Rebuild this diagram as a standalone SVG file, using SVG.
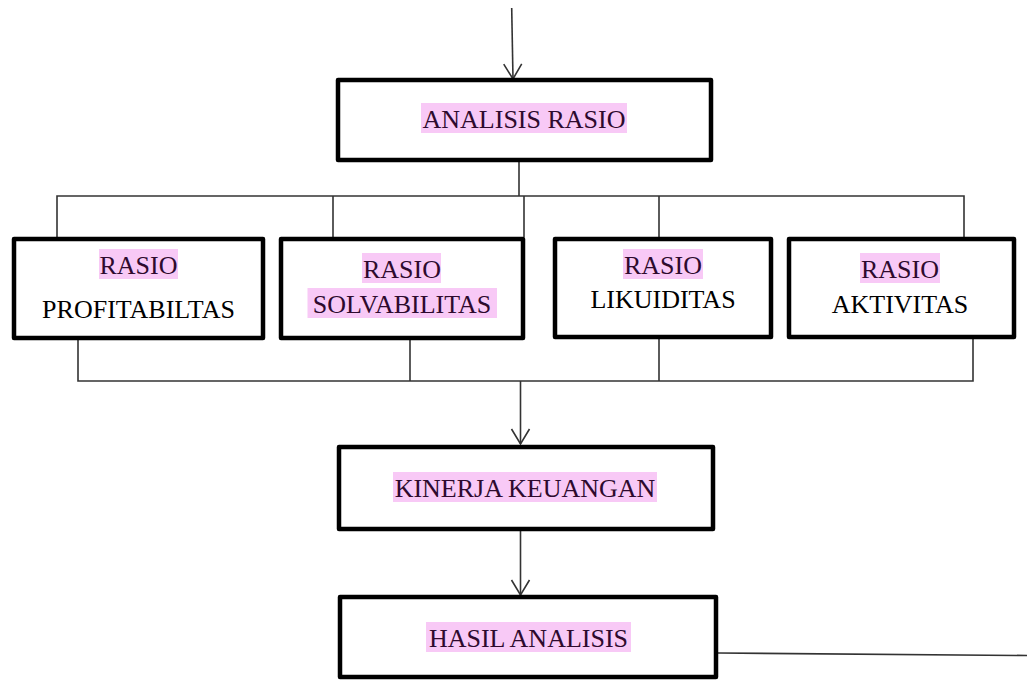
<svg xmlns="http://www.w3.org/2000/svg" width="1027" height="681" viewBox="0 0 1027 681" font-family="'Liberation Serif', serif">
  <style>
    .box { fill: #ffffff; stroke: #000000; stroke-width: 4.5; stroke-linejoin: round; }
    .hl { fill: #f8c9f6; }
    text { font-family: 'Liberation Serif', 'Times New Roman', serif; font-size: 26px; text-anchor: middle; }
    .tp { fill: #2e0a2e; }
    .tb { fill: #000000; }
    .c { fill: none; stroke: #333333; stroke-width: 1.6; }
  </style>
  <defs>
    <marker id="arr" viewBox="-17 -11 19 22" refX="0" refY="0" markerWidth="19" markerHeight="22" markerUnits="userSpaceOnUse" orient="auto">
      <path d="M-15,-9 L0,0 L-15,9" fill="none" stroke="#333333" stroke-width="1.6"/>
    </marker>
  </defs>
  <rect width="1027" height="681" fill="#ffffff"/>

  <g id="connectors">
    <line class="c" x1="511.7" y1="8" x2="513" y2="79" marker-end="url(#arr)"/>
    <path class="c" d="M519,162 V196"/>
    <path class="c" d="M57,237 V196 H964 V237"/>
    <path class="c" d="M333,196 V237"/>
    <path class="c" d="M524,196 V237"/>
    <path class="c" d="M659,196 V237"/>
    <path class="c" d="M78,340 V381 H973 V339"/>
    <path class="c" d="M410,340 V381"/>
    <path class="c" d="M659,339 V381"/>
    <line class="c" x1="520.5" y1="381" x2="520.5" y2="444" marker-end="url(#arr)"/>
    <line class="c" x1="520.5" y1="531" x2="520.5" y2="595" marker-end="url(#arr)"/>
    <line class="c" x1="718" y1="653" x2="1027" y2="655.5"/>
  </g>

  <g id="analisis-rasio">
    <rect class="box" x="338" y="80" width="373" height="80"/>
    <rect class="hl" x="421" y="103" width="206" height="30"/>
    <text class="tp" x="524" y="128">ANALISIS RASIO</text>
  </g>

  <g id="rasio-profitabilitas">
    <rect class="box" x="14" y="239" width="249" height="99"/>
    <rect class="hl" x="99" y="249" width="79" height="30"/>
    <text class="tp" x="138.5" y="274">RASIO</text>
    <text class="tb" x="138.5" y="318">PROFITABILTAS</text>
  </g>

  <g id="rasio-solvabilitas">
    <rect class="box" x="281" y="239" width="242" height="99"/>
    <rect class="hl" x="362" y="253" width="79" height="30"/>
    <text class="tp" x="402" y="278">RASIO</text>
    <rect class="hl" x="307.5" y="288" width="189.5" height="30"/>
    <text class="tp" x="402" y="313">SOLVABILITAS</text>
  </g>

  <g id="rasio-likuiditas">
    <rect class="box" x="555" y="239" width="216" height="98"/>
    <rect class="hl" x="623" y="249" width="80" height="30"/>
    <text class="tp" x="663" y="274">RASIO</text>
    <text class="tb" x="663" y="308">LIKUIDITAS</text>
  </g>

  <g id="rasio-aktivitas">
    <rect class="box" x="789" y="239" width="225" height="98"/>
    <rect class="hl" x="860" y="253" width="80" height="30"/>
    <text class="tp" x="900" y="278">RASIO</text>
    <text class="tb" x="900" y="313">AKTIVITAS</text>
  </g>

  <g id="kinerja-keuangan">
    <rect class="box" x="339" y="447" width="374" height="82"/>
    <rect class="hl" x="393" y="472" width="264" height="30"/>
    <text class="tp" x="525" y="497">KINERJA KEUANGAN</text>
  </g>

  <g id="hasil-analisis">
    <rect class="box" x="340" y="597" width="376" height="80"/>
    <rect class="hl" x="426" y="622" width="205" height="30"/>
    <text class="tp" x="528.5" y="647">HASIL ANALISIS</text>
  </g>
</svg>
